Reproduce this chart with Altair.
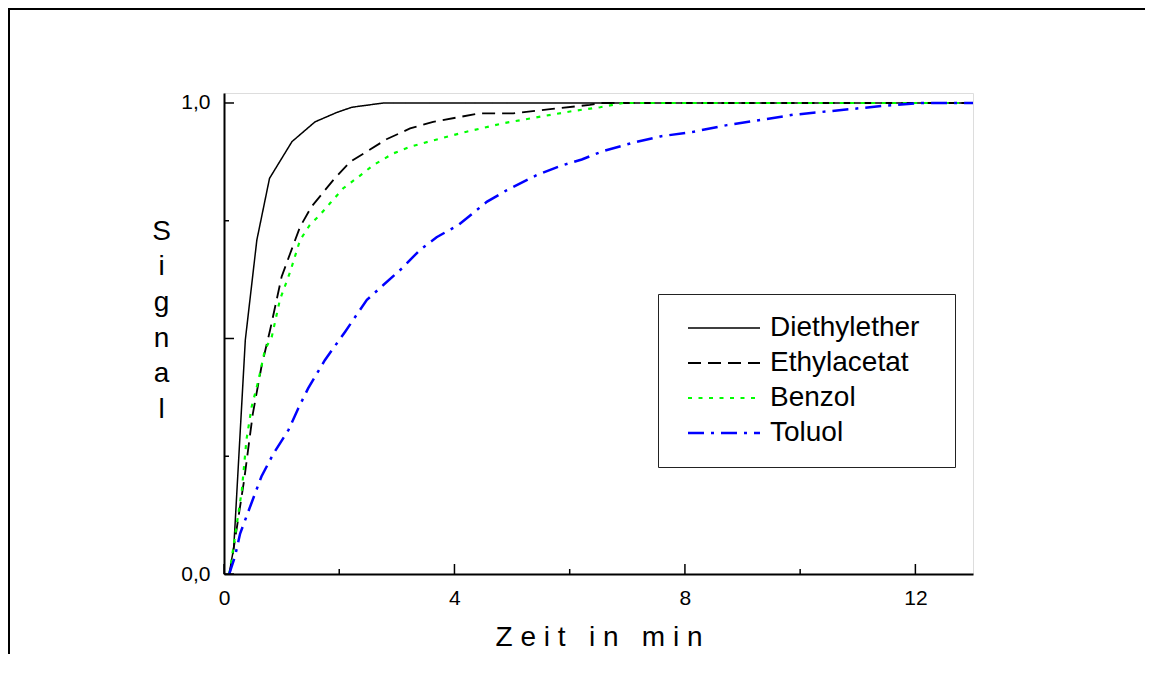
import altair as alt
import pandas as pd

# ---- data ----
names = ["Diethylether", "Ethylacetat", "Benzol", "Toluol"]

t_diethyl = [0.09, 0.17, 0.37, 0.57, 0.79, 1.18, 1.58, 1.96, 2.22, 2.77, 13.0]
s_diethyl = [0.0, 0.057, 0.497, 0.709, 0.840, 0.918, 0.960, 0.980, 0.991, 1.0, 1.0]

t_ethyl = [0.10, 0.35, 0.50, 0.65, 0.80, 1.00, 1.15, 1.32, 1.52, 1.90, 2.19, 2.48,
           2.82, 3.23, 3.63, 4.44, 5.02, 5.66, 6.35, 6.53, 13.0]
s_ethyl = [0.0, 0.20, 0.34, 0.44, 0.518, 0.631, 0.681, 0.737, 0.780, 0.837, 0.875, 0.897,
           0.923, 0.946, 0.960, 0.978, 0.978, 0.987, 0.996, 1.0, 1.0]

t_benzol = [0.09, 0.13, 0.31, 0.39, 0.48, 0.60, 0.71, 0.83, 0.97, 1.15, 1.32, 1.49, 1.67,
            1.84, 2.07, 2.30, 2.59, 2.94, 3.23, 3.58, 4.21, 4.85, 5.49, 6.06, 6.53, 6.93, 13.0]
s_benzol = [0.0, 0.03, 0.178, 0.285, 0.355, 0.412, 0.476, 0.504, 0.582, 0.642, 0.709, 0.741, 0.763,
            0.787, 0.819, 0.840, 0.868, 0.893, 0.907, 0.919, 0.939, 0.957, 0.971, 0.983, 0.991, 1.0, 1.0]

t_toluol = [0.09, 0.19, 0.28, 0.42, 0.65, 0.86, 1.12, 1.29, 1.46, 1.75, 2.10, 2.48, 2.77, 3.09,
            3.40, 3.69, 4.07, 4.56, 4.91, 5.43, 5.83, 6.21, 6.56, 7.11, 7.57, 8.15, 8.73, 9.31,
            9.88, 10.46, 11.04, 11.45, 12.08, 13.0]
s_toluol = [0.0, 0.037, 0.086, 0.132, 0.207, 0.256, 0.306, 0.352, 0.394, 0.454, 0.514, 0.582, 0.614, 0.649,
            0.688, 0.715, 0.741, 0.790, 0.815, 0.847, 0.866, 0.880, 0.897, 0.916, 0.929, 0.939, 0.953, 0.964,
            0.975, 0.982, 0.989, 0.994, 1.0, 1.0]

x_label_values = [0, 4, 8, 12]
y_label_values = [0, 1]
x_major_ticks = [0, 4, 8, 12]
x_minor_ticks = [2, 6, 10]
y_major_ticks = [0, 0.5, 1.0]
y_minor_ticks = [0.25, 0.75]

colors = ["#000000", "#000000", "#00ff00", "#0000ff"]
dashes = [[1, 0], [13, 7], [4, 6.5], [16, 7, 3, 7]]
widths = [1.5, 2.5, 3, 2.5]

rows = []
for name, ts, ss in [(names[0], t_diethyl, s_diethyl), (names[1], t_ethyl, s_ethyl),
                     (names[2], t_benzol, s_benzol), (names[3], t_toluol, s_toluol)]:
    for i, (t, s) in enumerate(zip(ts, ss)):
        rows.append({"Stoff": name, "t": t, "s": s, "i": i})
df = pd.DataFrame(rows)

FONT = "Liberation Sans"
W, H = 749, 481
PAD_BOTTOM = 80
PAD_RIGHT = 172
xscale = alt.Scale(domain=[0, 13], nice=False)
yscale = alt.Scale(domain=[0, 1.0212], nice=False)

legend = alt.Legend(
    orient="none", legendX=434, legendY=201, title=None,
    symbolType="M-3,0L3,0", symbolSize=576,
    labelFont=FONT, labelFontSize=28, labelColor="black", labelLimit=400,
    labelExpr="datum.label + '\u00a0\u00a0\u200b'",
    strokeColor="#222222", padding=20, fillColor="white",
    rowPadding=7, symbolOffset=32, labelOffset=32,
)

xtitle = ("\u00a0".join(list("Zeit")) + "\u00a0\u00a0\u00a0" + "\u00a0".join(list("in"))
          + "\u00a0\u00a0\u00a0" + "\u00a0".join(list("min")))

xaxis = alt.Axis(
    values=x_label_values, format="d", ticks=False, tickSize=0, labelPadding=13,
    labelFlush=False, labelFont=FONT, labelFontSize=21, labelColor="black",
    domainColor="black", domainWidth=2, grid=False,
    title=xtitle, titleFont=FONT, titleFontSize=28, titleFontWeight="normal",
    titleColor="black", titleY=71, titleBaseline="alphabetic")
yaxis = alt.Axis(
    values=y_label_values, labelExpr="replace(format(datum.value, '.1f'), '.', ',')",
    ticks=False, tickSize=0, labelPadding=14, labelFlush=False,
    labelFont=FONT, labelFontSize=21, labelColor="black",
    domainColor="black", domainWidth=2, grid=False,
    title=list("Signal"), titleAngle=0, titleX=-63, titleY=146, titleAlign="center",
    titleBaseline="alphabetic", titleFont=FONT, titleFontSize=28, titleFontWeight="normal",
    titleLineHeight=35.7, titleColor="black")

lines = alt.Chart(df).mark_line(clip=False).encode(
    x=alt.X("t:Q", scale=xscale, axis=xaxis, title=xtitle),
    y=alt.Y("s:Q", scale=yscale, axis=yaxis, title=list("Signal")),
    color=alt.Color("Stoff:N", scale=alt.Scale(domain=names, range=colors), legend=legend),
    strokeDash=alt.StrokeDash("Stoff:N", scale=alt.Scale(domain=names, range=dashes), legend=legend),
    strokeWidth=alt.StrokeWidth("Stoff:N", scale=alt.Scale(domain=names, range=widths), legend=legend),
    order="i:Q",
)

def yticks(vals, length):
    return alt.Chart(pd.DataFrame({"v": vals})).mark_rule(color="black", strokeWidth=1.5).encode(
        y=alt.Y("v:Q", scale=yscale, axis=yaxis, title=list("Signal")),
        x=alt.value(0), x2=alt.value(length))

def xticks(vals, length):
    return alt.Chart(pd.DataFrame({"v": vals})).mark_rule(color="black", strokeWidth=1.5).encode(
        x=alt.X("v:Q", scale=xscale, axis=xaxis, title=xtitle),
        y=alt.value(H), y2=alt.value(H - length))

one = pd.DataFrame({"a": [0]})
frame_top = alt.Chart(one).mark_rect(color="black").encode(
    x=alt.value(-216), x2=alt.value(W + PAD_RIGHT), y=alt.value(-85), y2=alt.value(-83))
frame_left = alt.Chart(one).mark_rect(color="black").encode(
    x=alt.value(-216), x2=alt.value(-214), y=alt.value(-85), y2=alt.value(H + PAD_BOTTOM))

chart = alt.layer(
    lines,
    yticks(y_major_ticks, 10), yticks(y_minor_ticks, 5),
    xticks(x_major_ticks, 10), xticks(x_minor_ticks, 5),
    frame_top, frame_left,
).properties(
    width=W, height=H,
    autosize=alt.AutoSizeParams(type="none"),
    padding={"left": 216, "top": 85, "right": PAD_RIGHT, "bottom": PAD_BOTTOM},
    background="white",
).configure_view(stroke=None).configure(font=FONT)

chart.save("out.html", embed_options={"renderer": "svg", "actions": False})
